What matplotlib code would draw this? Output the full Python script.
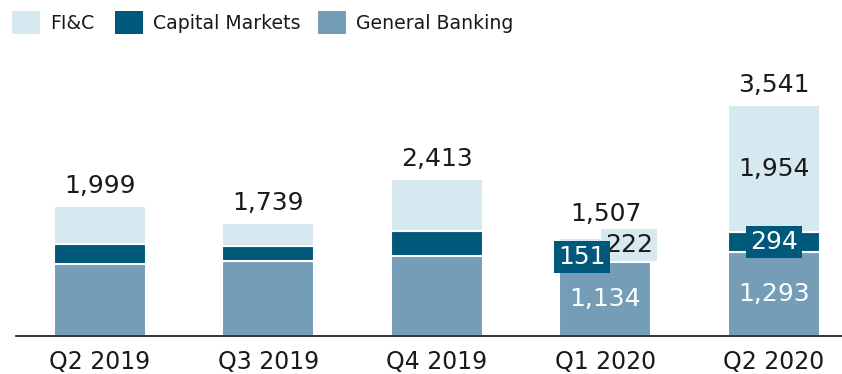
import matplotlib
matplotlib.use("Agg")
import matplotlib.pyplot as plt
from matplotlib.patches import Rectangle

# Quarterly figures (stacked: General Banking, Capital Markets, FI&C)
quarters = ["Q2 2019", "Q3 2019", "Q4 2019", "Q1 2020", "Q2 2020"]
general_banking = [1109, 1143, 1230, 1134, 1293]
capital_markets = [307, 237, 377, 151, 294]
fic = [583, 359, 806, 222, 1954]
totals = [1999, 1739, 2413, 1507, 3541]

# Quarters whose segment values are written on the bars
labelled = [3, 4]

C_FIC = "#d6e8f0"
C_CM = "#00587a"
C_GB = "#759db8"
C_TEXT = "#1a1a1a"

W, H = 842, 374
DPI = 100
fig = plt.figure(figsize=(W / DPI, H / DPI), dpi=DPI)
plt.rcParams["font.family"] = ["DejaVu Sans"]

# axes placed in pixel terms
ax_left, ax_right = 16, 842
ax_bottom, ax_top = 336, 62
ax = fig.add_axes([ax_left / W, 1 - ax_bottom / H,
                   (ax_right - ax_left) / W, (ax_bottom - ax_top) / H])

x = list(range(len(quarters)))
bw = 0.546
edge = dict(edgecolor="white", linewidth=1.5)
ax.bar(x, general_banking, bw, color=C_GB, **edge, zorder=2)
cm_bottom = general_banking
ax.bar(x, capital_markets, bw, bottom=cm_bottom, color=C_CM, **edge, zorder=2)
fic_bottom = [g + c for g, c in zip(general_banking, capital_markets)]
ax.bar(x, fic, bw, bottom=fic_bottom, color=C_FIC, **edge, zorder=2)

ax.set_xlim(-0.4985, 4.4036)
ax.set_ylim(0, 4200)

for s in ["top", "right", "left"]:
    ax.spines[s].set_visible(False)
ax.spines["bottom"].set_color("#111111")
ax.spines["bottom"].set_linewidth(1.2)
ax.spines["bottom"].set_zorder(5)
ax.set_yticks([])
ax.set_xticks(x)
ax.set_xticklabels(quarters, fontsize=17, color=C_TEXT)
ax.tick_params(axis="x", length=0, pad=10)

def fmt(v):
    return f"{v:,}"

VAL_FS = 18

# totals above bars
total_offsets = [9, 9, 9, 12, 9]
for i, t in enumerate(totals):
    ax.annotate(fmt(t), (x[i], t), xytext=(0, total_offsets[i]),
                textcoords="offset points", ha="center", va="baseline",
                fontsize=VAL_FS, color=C_TEXT, zorder=6)

# segment labels
box_shift = {3: (-17, 17), 4: (0, 0)}
box_style = "square,pad=0.17"
for i in labelled:
    gb = general_banking[i]
    cm = capital_markets[i]
    fc = fic[i]
    ax.text(x[i], gb / 2, fmt(gb), ha="center", va="center",
            fontsize=VAL_FS, color="white", zorder=4)
    cm_shift, fic_shift = box_shift[i]
    if i == 3:
        ax.annotate(fmt(fc), (x[i], fic_bottom[i] + fc / 2),
                    xytext=(fic_shift, 0), textcoords="offset points",
                    ha="center", va="center", fontsize=VAL_FS, color=C_TEXT,
                    zorder=6,
                    bbox=dict(boxstyle=box_style, fc=C_FIC, ec="none"))
    else:
        ax.text(x[i], fic_bottom[i] + fc / 2, fmt(fc), ha="center",
                va="center", fontsize=VAL_FS, color=C_TEXT, zorder=4)
    ax.annotate(fmt(cm), (x[i], cm_bottom[i] + cm / 2),
                xytext=(cm_shift, 0), textcoords="offset points",
                ha="center", va="center", fontsize=VAL_FS, color="white",
                zorder=7,
                bbox=dict(boxstyle=box_style, fc=C_CM, ec="none"))

# legend row
legend_items = [("FI&C", C_FIC, 12, 50),
                ("Capital Markets", C_CM, 115, 153),
                ("General Banking", C_GB, 318, 356)]
for label, col, px, tx in legend_items:
    fig.add_artist(Rectangle((px / W, 1 - 34 / H), 28 / W, 23 / H,
                             transform=fig.transFigure, color=col,
                             linewidth=0))
    fig.text(tx / W, 1 - 29 / H, label, fontsize=13.6, color=C_TEXT,
             ha="left", va="baseline")

fig.savefig("out.png", dpi=DPI)
